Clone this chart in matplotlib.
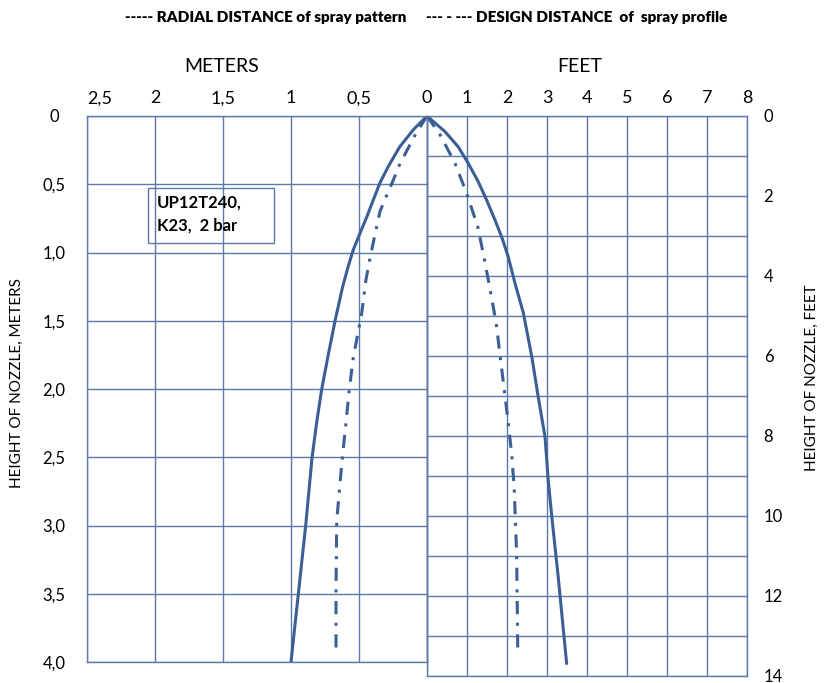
import matplotlib.pyplot as plt
from matplotlib.patches import Rectangle

# spray profile, meters side (radius, height)
h_m_solid = [0, 0.1, 0.225, 0.37, 0.49, 0.615, 0.74, 0.86, 0.98, 1.1, 1.25,
             1.5, 1.75, 2.0, 2.25, 2.5, 3.0, 3.5, 4.0]
r_m_solid = [0, 0.1, 0.2, 0.285, 0.346, 0.395, 0.443, 0.493, 0.542, 0.579, 0.62,
             0.676, 0.726, 0.774, 0.812, 0.845, 0.892, 0.946, 1.0]
h_m_dash = [0, 0.14, 0.35, 0.47, 0.58, 0.7, 0.81, 1.04, 1.2, 1.445, 1.77, 2.0,
            2.25, 2.48, 2.64, 2.97, 3.46, 3.95]
r_m_dash = [0, 0.088, 0.199, 0.248, 0.296, 0.346, 0.37, 0.419, 0.449, 0.48, 0.542,
            0.571, 0.596, 0.62, 0.635, 0.664, 0.669, 0.669]

# spray profile, feet side (radius, height)
h_f_solid = [0, 0.39, 0.77, 1.18, 1.64, 2.1, 2.6, 3.06, 3.52, 4.18, 4.93, 6.02,
             7.02, 8.02, 9.1, 10.02, 11.52, 13.68]
r_f_solid = [0, 0.45, 0.78, 1.03, 1.28, 1.49, 1.7, 1.88, 2.03, 2.2, 2.41, 2.62,
             2.78, 2.95, 3.03, 3.12, 3.28, 3.49]
h_f_dash = [0, 0.475, 1.18, 1.93, 2.77, 3.56, 4.35, 5.18, 6.02, 6.83, 7.67, 8.48,
            9.31, 10.93, 13.43]
r_f_dash = [0, 0.33, 0.7, 0.99, 1.27, 1.43, 1.58, 1.73, 1.83, 1.93, 2.03, 2.12,
            2.18, 2.24, 2.27]

m_x_ticks = [0, 0.5, 1, 1.5, 2, 2.5]
m_x_labels = ['0', '0,5', '1', '1,5', '2', '2,5']
m_y_ticks = [0, 0.5, 1, 1.5, 2, 2.5, 3, 3.5, 4]
m_y_labels = ['0', '0,5', '1,0', '1,5', '2,0', '2,5', '3,0', '3,5', '4,0']
f_x_ticks = list(range(0, 9))
f_y_grid = list(range(0, 15))
f_y_ticks = [0, 2, 4, 6, 8, 10, 12, 14]

line_col = '#3b5f95'
grid_col = '#5b7aa8'
plt.rcParams['font.family'] = ['Lato', 'DejaVu Sans']

W, H = 826, 683
fig = plt.figure(figsize=(W / 100, H / 100), dpi=100)

def rect(x0, y0, x1, y1):
    return [x0 / W, 1 - y1 / H, (x1 - x0) / W, (y1 - y0) / H]

ax_m = fig.add_axes(rect(87, 116, 427, 662))
ax_f = fig.add_axes(rect(427, 116, 747, 676))

for ax in (ax_m, ax_f):
    for s in ax.spines.values():
        s.set_color(grid_col)
        s.set_linewidth(1.0)
    ax.grid(True, color=grid_col, linewidth=1.0)
    ax.set_axisbelow(True)
    ax.patch.set_alpha(0)

# meters side
ax_m.set_xlim(2.5, 0)
ax_m.set_ylim(4, 0)
ax_m.set_xticks(m_x_ticks)
ax_m.set_xticklabels(m_x_labels, fontsize=13)
ax_m.set_yticks(m_y_ticks)
ax_m.set_yticklabels(m_y_labels, fontsize=12)
ax_m.xaxis.tick_top()
ax_m.tick_params(axis='x', length=0, pad=7)
ax_m.tick_params(axis='y', length=0, pad=14)
for lab in ax_m.get_yticklabels():
    lab.set_horizontalalignment('center')
    lab.set_x(-0.04)
ax_m.get_xticklabels()[-1].set_horizontalalignment('left')

ax_m.plot(r_m_solid, h_m_solid, color=line_col, lw=2.2)
ax_m.plot(r_m_dash, h_m_dash, color=line_col, lw=2.2,
          linestyle=(0, (4.3, 2.8, 1.0, 2.8)))

ax_m.add_patch(Rectangle((0.179, 0.767), 0.371, 0.1007, transform=ax_m.transAxes,
                         fill=False, edgecolor=grid_col, linewidth=1.0))
ax_m.text(0.206, 0.856, 'UP12T240,\nK23,  2 bar', transform=ax_m.transAxes,
          ha='left', va='top', fontsize=12, fontweight='bold', linespacing=1.5)

# feet side
ax_f.set_xlim(0, 8)
ax_f.set_ylim(14, 0)
ax_f.set_xticks(f_x_ticks)
ax_f.set_xticklabels([str(v) for v in f_x_ticks], fontsize=13)
ax_f.set_yticks(f_y_grid)
ax_f.set_yticklabels([str(v) if v in f_y_ticks else '' for v in f_y_grid], fontsize=12)
ax_f.xaxis.tick_top()
ax_f.yaxis.tick_right()
ax_f.tick_params(axis='x', length=0, pad=7)
ax_f.tick_params(axis='y', length=0, pad=12)
ax_f.get_xticklabels()[0].set_visible(False)

ax_f.plot(r_f_solid, h_f_solid, color=line_col, lw=2.2)
ax_f.plot(r_f_dash, h_f_dash, color=line_col, lw=2.2,
          linestyle=(0, (4.3, 2.8, 1.0, 2.8)))

# titles
fig.text(222 / W, 1 - 67 / H, 'METERS', ha='center', va='center', fontsize=14)
fig.text(580 / W, 1 - 67 / H, 'FEET', ha='center', va='center', fontsize=14)
fig.text(17 / W, 1 - 383 / H, 'HEIGHT OF NOZZLE, METERS', rotation=90,
         ha='center', va='center', fontsize=11)
fig.text(812 / W, 1 - 378 / H, 'HEIGHT OF NOZZLE, FEET', rotation=90,
         ha='center', va='center', fontsize=11)

fig.text(266 / W, 1 - 17 / H, '----- RADIAL DISTANCE of spray pattern',
         ha='center', va='center', fontsize=11, fontweight='heavy')
fig.text(577 / W, 1 - 17 / H, '--- - --- DESIGN DISTANCE  of  spray profile',
         ha='center', va='center', fontsize=11, fontweight='heavy')

fig.savefig('out.png', dpi=100)
